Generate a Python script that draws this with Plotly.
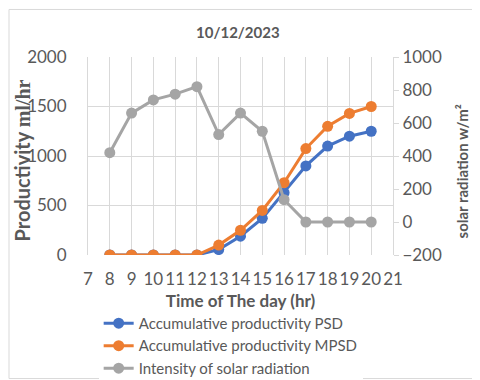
import plotly.graph_objects as go

hours = [8, 9, 10, 11, 12, 13, 14, 15, 16, 17, 18, 19, 20]
psd = [0, 0, 0, 0, 0, 55, 190, 370, 630, 900, 1100, 1200, 1250]
mpsd = [0, 0, 0, 0, 0, 100, 250, 450, 730, 1075, 1300, 1430, 1500]
solar = [420, 660, 740, 775, 820, 530, 660, 550, 135, 0, 0, 0, 0]

grey = "#595959"
fnt = "Lato, Liberation Sans, sans-serif"

fig = go.Figure()
fig.add_trace(go.Scatter(x=hours, y=psd, name="Accumulative productivity PSD",
                         mode="lines+markers", line=dict(color="#4472C4", width=3),
                         marker=dict(size=11)))
fig.add_trace(go.Scatter(x=hours, y=mpsd, name="Accumulative productivity MPSD",
                         mode="lines+markers", line=dict(color="#ED7D31", width=3),
                         marker=dict(size=11)))
fig.add_trace(go.Scatter(x=hours, y=solar, name="Intensity of solar radiation",
                         mode="lines+markers", line=dict(color="#A5A5A5", width=3),
                         marker=dict(size=11), yaxis="y2"))

# page has an 8px body margin, so the figure is 472x372 and offsets are shifted
fig.update_layout(
    width=472, height=372,
    paper_bgcolor="white", plot_bgcolor="white",
    margin=dict(l=80, r=87, t=49, b=125, autoexpand=False),
    font=dict(family=fnt, color=grey, size=17),
    title=dict(text="<b>10/12/2023</b>", x=0.487, xanchor="center", y=0.933, yanchor="middle",
               font=dict(size=15, color=grey)),
    xaxis=dict(range=[7, 21], dtick=1, showgrid=True, gridcolor="#d9d9d9", zeroline=False,
               showline=False, ticks="", tickfont=dict(size=17), ticklabelstandoff=12,
               tickangle=0, automargin=False,
               title=dict(text="<b>Time of The day (hr)</b>", font=dict(size=17), standoff=7)),
    yaxis=dict(range=[0, 2000], dtick=500, gridcolor="#d9d9d9", zeroline=False,
               showline=True, linecolor="#d9d9d9", ticks="", tickfont=dict(size=17),
               ticklabelstandoff=17, automargin=False),
    yaxis2=dict(range=[-200, 1000], dtick=200, overlaying="y", side="right", showgrid=False,
                zeroline=False, showline=True, linecolor="#d9d9d9", ticks="outside",
                ticklen=5, tickcolor="#d9d9d9", tickfont=dict(size=17), automargin=False),
    legend=dict(x=0.035, y=-0.262, xanchor="left", yanchor="top", orientation="v",
                font=dict(size=15, color=grey), tracegroupgap=0, itemwidth=30),
    annotations=[
        dict(text="<b>Productivity <span style='font-family:Liberation Serif'>ml/hr</span></b>",
             xref="paper", yref="paper", x=-0.215, y=0.48, textangle=-90,
             xanchor="center", yanchor="middle", showarrow=False,
             font=dict(size=20, color=grey)),
        dict(text="<b>solar radiation w/m²</b>",
             xref="paper", yref="paper", x=1.225, y=0.42, textangle=-90,
             xanchor="center", yanchor="middle", showarrow=False,
             font=dict(size=15, color=grey)),
    ],
    shapes=[dict(type="rect", xref="paper", yref="paper", x0=-0.259, x1=1.28, y0=-0.624, y1=1.24,
                 line=dict(color="#d9d9d9", width=1))],
)

fig.write_html("out.html")
